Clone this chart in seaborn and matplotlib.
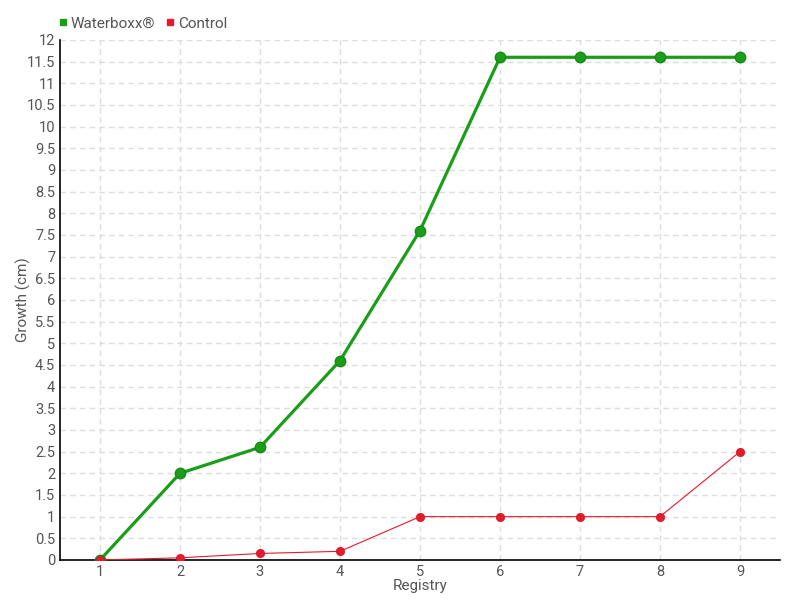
import pandas as pd
import matplotlib.pyplot as plt
import seaborn as sns
from matplotlib.ticker import MultipleLocator, FuncFormatter
from matplotlib.lines import Line2D

# Datos
registry = [1, 2, 3, 4, 5, 6, 7, 8, 9]
waterboxx = [0, 2, 2.6, 4.6, 7.6, 11.6, 11.6, 11.6, 11.6]
control = [0, 0.05, 0.15, 0.2, 1, 1, 1, 1, 2.5]

df = pd.DataFrame({
    'Registry': registry * 2,
    'Growth': waterboxx + control,
    'serie': ['Waterboxx®'] * len(registry) + ['Control'] * len(registry),
})

sns.set_style("white")
plt.rcParams['font.family'] = ['Roboto', 'DejaVu Sans']

green = '#1a9e1a'
red = '#e8192c'
text_col = '#555555'

fig = plt.figure(figsize=(8, 6), dpi=100)
ax = fig.add_axes([0.075, 0.0667, 0.9, 0.8667])

# Waterboxx (linea gruesa)
sns.lineplot(data=df[df['serie'] == 'Waterboxx®'], x='Registry', y='Growth',
             color=green, linewidth=2.3, marker='o', markersize=7.5,
             markeredgecolor='#178a17', markeredgewidth=1, ax=ax, zorder=3)
# Control (linea fina)
sns.lineplot(data=df[df['serie'] == 'Control'], x='Registry', y='Growth',
             color=red, linewidth=0.8, marker='o', markersize=6,
             markeredgecolor='#d01525', markeredgewidth=0.5, ax=ax, zorder=4)

ax.set_xlim(0.5, 9.5)
ax.set_ylim(0, 12)
ax.xaxis.set_major_locator(MultipleLocator(1))
ax.yaxis.set_major_locator(MultipleLocator(0.5))
ax.yaxis.set_major_formatter(FuncFormatter(lambda v, p: f"{v:g}"))

ax.grid(True, color='#dddddd', linestyle=(0, (4, 3)), linewidth=1)
ax.set_axisbelow(True)
for s in ['top', 'right']:
    ax.spines[s].set_visible(False)
for s in ['left', 'bottom']:
    ax.spines[s].set_color('black')
    ax.spines[s].set_linewidth(1.2)

ax.tick_params(axis='both', colors='black', labelcolor=text_col,
               labelsize=10.5, length=3, width=1, direction='inout', pad=2)

ax.set_xlabel('Registry', color=text_col, fontsize=11)
ax.set_ylabel('Growth (cm)', color=text_col, fontsize=11)
ax.yaxis.set_label_coords(-0.04, 0.5)
ax.xaxis.set_label_coords(0.5, -0.036)

# Leyenda
handles = [Line2D([], [], color=green, marker='s', linestyle='', markersize=4.5),
           Line2D([], [], color=red, marker='s', linestyle='', markersize=4.5)]
fig.legend(handles, ['Waterboxx®', 'Control'], loc='upper left',
           bbox_to_anchor=(0.052, 0.995), ncol=2, frameon=False,
           handletextpad=0.0, columnspacing=0.5, handlelength=1,
           labelcolor=text_col, fontsize=11)

fig.savefig('out.png', dpi=100)
